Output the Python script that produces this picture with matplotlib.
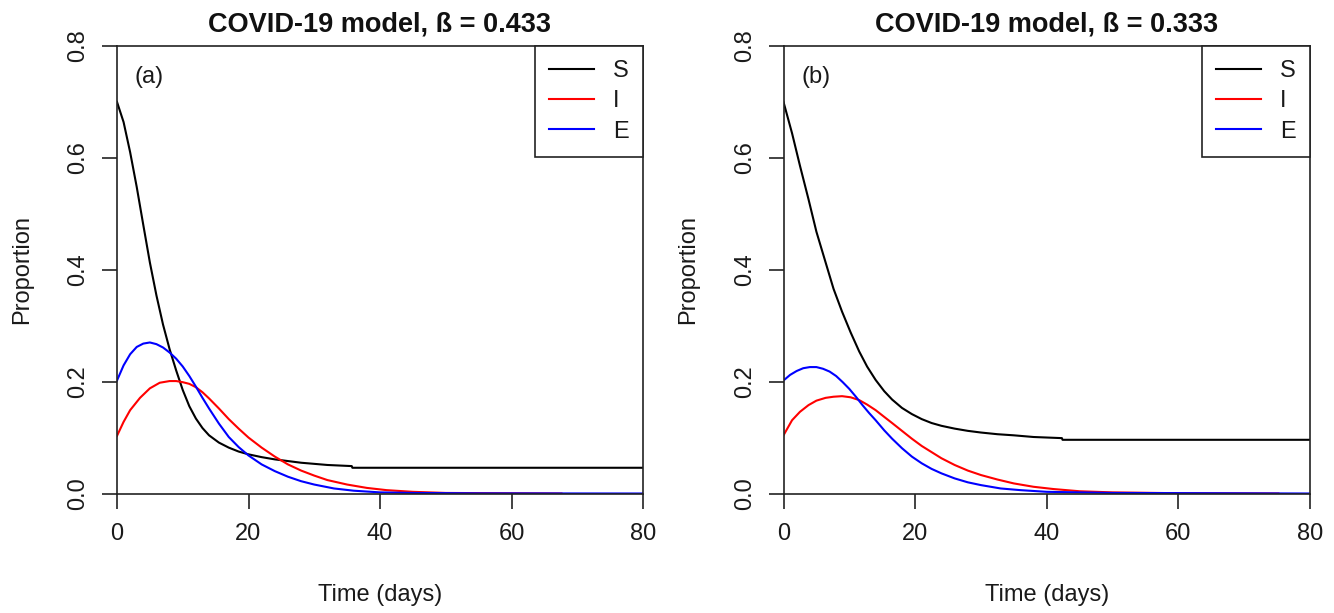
import matplotlib
matplotlib.use("Agg")
import matplotlib.pyplot as plt

plt.rcParams['font.family'] = ['Liberation Sans', 'DejaVu Sans']

# ---------------- data ----------------
titles = ["COVID-19 model, ß = 0.433", "COVID-19 model, ß = 0.333"]
panel_tags = ["(a)", "(b)"]
series_names = ["S", "I", "E"]
series_colors = ["black", "red", "blue"]
xticks = [0, 20, 40, 60, 80]
yticks = [0.0, 0.2, 0.4, 0.6, 0.8]
ytick_labels = ["0.0", "0.2", "0.4", "0.6", "0.8"]

# panel (a): beta = 0.433
a_S_t = [0, 1, 2, 3, 4, 5, 6, 7, 8, 9, 10, 11, 12, 13, 14, 15.5, 17, 18.5, 20, 22, 24, 26, 28, 30, 32, 35.7, 35.8, 50, 65, 80]
a_S_v = [0.700, 0.664, 0.610, 0.548, 0.480, 0.413, 0.354, 0.302, 0.258, 0.220, 0.185, 0.156, 0.134, 0.117, 0.104, 0.091, 0.082, 0.075, 0.070, 0.065, 0.061, 0.058, 0.055, 0.053, 0.051, 0.049, 0.046, 0.046, 0.046, 0.046]
a_I_t = [0, 1, 2, 3.5, 5, 6.5, 8, 9, 10, 11, 12, 13, 14, 15.5, 17, 18.5, 20, 22, 24, 26, 28, 30, 32, 35, 38, 41, 45, 50, 58, 67.6]
a_I_v = [0.103, 0.128, 0.149, 0.171, 0.188, 0.198, 0.201, 0.201, 0.199, 0.196, 0.190, 0.181, 0.170, 0.152, 0.133, 0.116, 0.100, 0.082, 0.066, 0.052, 0.041, 0.032, 0.024, 0.016, 0.010, 0.006, 0.003, 0.001, 0.0005, 0.0]
a_E_t = [0, 1, 2, 3, 4, 5, 6, 7, 8, 9, 10, 11, 12, 13, 14, 15.5, 17, 18.5, 20, 22, 24, 26, 28, 30, 33, 36, 40, 45, 55, 80]
a_E_v = [0.202, 0.229, 0.249, 0.262, 0.268, 0.270, 0.267, 0.261, 0.252, 0.241, 0.227, 0.210, 0.191, 0.171, 0.152, 0.125, 0.101, 0.083, 0.068, 0.052, 0.040, 0.030, 0.022, 0.016, 0.009, 0.005, 0.002, 0.001, 0.0003, 0.0]

# panel (b): beta = 0.333
b_S_t = [0, 1.3, 2.5, 3.8, 5, 6.4, 7.6, 8.9, 10.2, 11.5, 12.7, 14, 15.3, 16.5, 18, 19.5, 21, 22.5, 24, 26, 28, 30, 32.5, 35, 38, 42.3, 42.4, 55, 70, 80]
b_S_v = [0.700, 0.644, 0.586, 0.526, 0.468, 0.413, 0.366, 0.325, 0.288, 0.254, 0.227, 0.203, 0.183, 0.168, 0.153, 0.142, 0.133, 0.126, 0.121, 0.116, 0.112, 0.109, 0.106, 0.104, 0.101, 0.099, 0.096, 0.096, 0.096, 0.096]
b_I_t = [0, 1.3, 2.5, 3.8, 5, 6.4, 7.6, 8.9, 10.2, 11.5, 12.7, 14, 15.3, 16.5, 18, 19.5, 21, 22.5, 24, 26, 28, 30, 32.5, 35, 38, 41, 45, 50, 60, 75.2]
b_I_v = [0.104, 0.131, 0.146, 0.158, 0.166, 0.171, 0.173, 0.174, 0.172, 0.167, 0.159, 0.149, 0.137, 0.126, 0.112, 0.098, 0.085, 0.074, 0.063, 0.051, 0.041, 0.033, 0.025, 0.018, 0.012, 0.008, 0.004, 0.002, 0.0005, 0.0]
b_E_t = [0, 1, 2, 3, 4, 5, 6, 7, 8, 9, 10, 11, 12, 13, 14, 15.3, 16.5, 18, 19.5, 21, 22.5, 24, 26, 28, 30, 33, 36, 40, 50, 80]
b_E_v = [0.202, 0.212, 0.219, 0.224, 0.226, 0.226, 0.223, 0.218, 0.210, 0.199, 0.187, 0.173, 0.158, 0.144, 0.131, 0.113, 0.098, 0.081, 0.066, 0.054, 0.044, 0.036, 0.027, 0.020, 0.015, 0.009, 0.006, 0.003, 0.001, 0.0]

panels = [
    [(a_S_t, a_S_v), (a_I_t, a_I_v), (a_E_t, a_E_v)],
    [(b_S_t, b_S_v), (b_I_t, b_I_v), (b_E_t, b_E_v)],
]

# ---------------- figure ----------------
W, H = 1334, 613
fig = plt.figure(figsize=(W / 100, H / 100), dpi=100)
fig.patch.set_facecolor("white")

frame_col = "#222222"
boxes = [(117, 643), (783.5, 1310)]
ylabel_x = [22, 688]
top_px, bot_px = 46, 493.5

for k, (x0, x1) in enumerate(boxes):
    ax = fig.add_axes([x0 / W, (H - bot_px) / H, (x1 - x0) / W, (bot_px - top_px) / H])
    for (t, v), name, col in zip(panels[k], series_names, series_colors):
        ax.plot(t, v, color=col, lw=1.5, label=name, solid_joinstyle="round")
    ax.set_xlim(0, 80)
    ax.set_ylim(0, 0.8)
    ax.set_xticks(xticks)
    ax.set_yticks(yticks)
    ax.set_yticklabels(ytick_labels)
    for s in ax.spines.values():
        s.set_linewidth(1.2)
        s.set_color(frame_col)
    ax.tick_params(direction="out", length=11, width=1.2, color=frame_col,
                   labelsize=17, labelcolor="#1a1a1a")
    ax.tick_params(axis="x", pad=10)
    ax.tick_params(axis="y", pad=9, labelrotation=90)
    for lab in ax.get_yticklabels():
        lab.set_va("center")

    ax.set_xlabel("Time (days)", fontsize=17, color="#1a1a1a", va="center")
    ax.xaxis.set_label_coords(0.5, (bot_px - 595) / (bot_px - top_px))
    ax.set_ylabel("Proportion", fontsize=17, color="#1a1a1a", va="center")
    ax.yaxis.set_label_coords((ylabel_x[k] - x0) / (x1 - x0), 0.5)

    ax.text(0.5, 1 + (top_px - 24) / (bot_px - top_px), titles[k], transform=ax.transAxes,
            ha="center", va="center", fontsize=19.5, fontweight="bold", color="#111111")
    ax.text(4.9, 0.745, panel_tags[k], ha="center", va="center", fontsize=17, color="#1a1a1a")

    leg = ax.legend(loc="upper right", borderaxespad=0, fontsize=17, frameon=True,
                    fancybox=False, handlelength=1.9, handletextpad=0.8,
                    labelspacing=0.35, borderpad=0.6, markerfirst=True)
    fr = leg.get_frame()
    fr.set_edgecolor(frame_col)
    fr.set_linewidth(1.2)
    fr.set_alpha(1)
    for txt in leg.get_texts():
        txt.set_color("#1a1a1a")

fig.savefig("out.png", dpi=100, facecolor="white")
